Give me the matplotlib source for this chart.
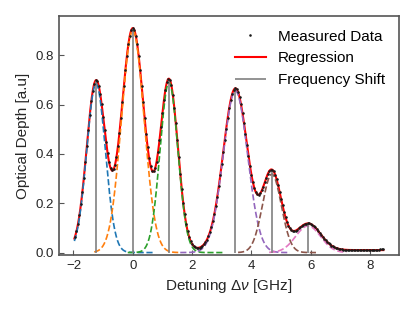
import numpy as np
import matplotlib
matplotlib.use("Agg")
import matplotlib.pyplot as plt

plt.rcParams["font.family"] = ["Liberation Sans", "DejaVu Sans"]
plt.rcParams["mathtext.fontset"] = "custom"
plt.rcParams["mathtext.rm"] = "Liberation Sans"
plt.rcParams["mathtext.it"] = "Liberation Sans:italic"

# measured optical depth (x 1e-3), sampled every ~0.05 GHz from -1.95 to 8.45
od_meas = [
    64, 86, 115, 151, 195, 246, 304, 367, 432, 498, 559, 613, 656, 685, 699, 696, 677, 644, 601, 551,
    498, 447, 402, 366, 343, 333, 337, 356, 388, 432, 486, 547, 612, 677, 740, 797, 844, 880, 903, 910,
    903, 880, 844, 796, 739, 675, 609, 544, 482, 427, 383, 350, 332, 329, 341, 367, 406, 455, 510, 566,
    617, 661, 691, 705, 701, 678, 640, 587, 525, 457, 387, 319, 257, 202, 155, 117, 86, 63, 46, 35,
    27, 22, 20, 19, 20, 23, 27, 34, 42, 52, 66, 83, 103, 128, 156, 190, 227, 268, 313, 360,
    408, 456, 503, 547, 585, 618, 643, 659, 666, 663, 651, 630, 601, 565, 525, 481, 437, 393, 352, 316,
    285, 261, 244, 236, 235, 240, 252, 267, 285, 303, 318, 330, 336, 336, 329, 316, 297, 273, 246, 219,
    191, 166, 143, 124, 109, 98, 91, 88, 88, 89, 93, 98, 103, 107, 112, 115, 117, 118, 118, 116,
    112, 108, 102, 95, 88, 80, 72, 65, 57, 50, 44, 38, 33, 28, 25, 21, 19, 17, 15, 14,
    13, 12, 11, 11, 11, 10, 10, 10, 10, 10, 10, 10, 10, 10, 10, 10, 10, 10, 10, 10,
    10, 10, 11, 11, 12, 12, 13, 13, 14,
]
det_meas = np.linspace(-1.95, 8.45, len(od_meas))

# fitted peak parameters
centers = [-1.24, 0.0, 1.22, 3.46, 4.69, 5.91]
amps = [0.685, 0.90, 0.69, 0.656, 0.318, 0.108]
sigmas = [0.315, 0.38, 0.30, 0.41, 0.318, 0.42]
offset = 0.01
comp_lo = [-1.97, -1.30, -0.17, 1.60, 3.55, 4.60]
comp_hi = [0.68, 1.60, 3.10, 5.30, 6.25, 7.20]
comp_colors = ["C0", "C1", "C2", "C4", "C5", "C6"]


def gauss(x, c, a, s):
    return a * np.exp(-(x - c) ** 2 / (2 * s ** 2))


fig = plt.figure(figsize=(4.15, 3.11), dpi=100)
ax = fig.add_axes([0.142, 0.180, 0.819, 0.769])

xf = np.linspace(-1.97, 8.45, 800)
fit = offset + sum(gauss(xf, c, a, s) for c, a, s in zip(centers, amps, sigmas))
ax.plot(xf, fit, color="red", lw=1.5, label="Regression", zorder=3)
for c, a, s, lo, hi, col in zip(centers, amps, sigmas, comp_lo, comp_hi, comp_colors):
    xc = np.linspace(lo, hi, 200)
    ax.plot(xc, gauss(xc, c, a, s), "--", color=col, lw=1.2, zorder=4)
ax.vlines(centers, 0, np.array(amps) + offset, color="gray", lw=1.2, zorder=5,
          label="Frequency Shift")
ax.plot(det_meas, np.array(od_meas) / 1000, ".", color="0.1", ms=1.7,
        label="Measured Data", zorder=6)

ax.set_ylim(-0.01, 0.96)
ax.set_xlabel(r"Detuning $\Delta\nu$ [GHz]", fontsize=11, color="#262626")
ax.set_ylabel("Optical Depth [a.u]", fontsize=11, color="#262626")
ax.tick_params(direction="in", length=3.5, labelsize=9.5, colors="#555555",
               labelcolor="#262626")
for sp in ax.spines.values():
    sp.set_color("#555555")
    sp.set_linewidth(1.2)
h, l = ax.get_legend_handles_labels()
order = [l.index("Measured Data"), l.index("Regression"), l.index("Frequency Shift")]
ax.legend([h[i] for i in order], [l[i] for i in order], loc="upper right",
          frameon=False, fontsize=11)

fig.savefig("out.png", dpi=100)
